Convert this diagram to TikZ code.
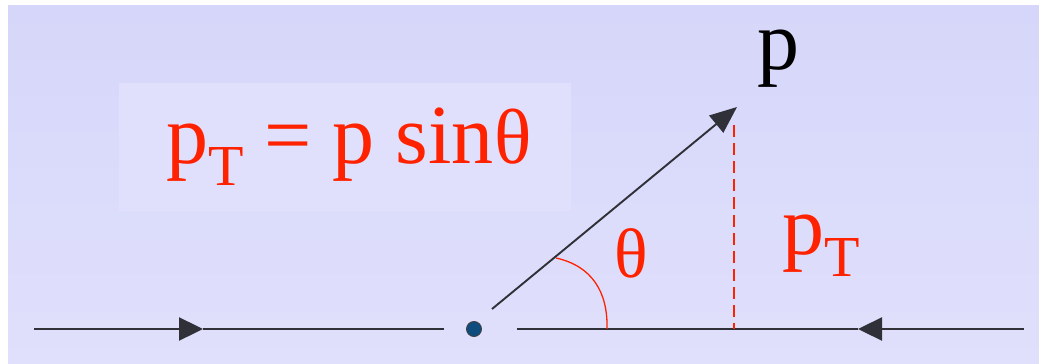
\documentclass[tikz,border=0pt]{standalone}
\usepackage{fontspec}
\setmainfont{Liberation Serif}
\usetikzlibrary{arrows.meta}
\definecolor{bgtop}{HTML}{D6D6FA}
\definecolor{bgbot}{HTML}{E0E0FC}
\definecolor{boxc}{HTML}{E0E0FC}
\definecolor{redc}{HTML}{FF2200}
\definecolor{dotc}{HTML}{0E4C7E}
\definecolor{linec}{HTML}{303038}
\tikzset{
  axisline/.style={draw=linec, line width=2.4pt},
  headtip/.style={-{Triangle[length=24pt,width=23pt]}},
  redtext/.style={text=redc, inner sep=0pt},
  bigfont/.style={font=\fontsize{84}{90}\selectfont},
}
\begin{document}
\begin{tikzpicture}[x=1pt,y=-1pt]
\useasboundingbox (0,0) rectangle (1039,364);
\fill[white] (0,0) rectangle (1039,364);
\shade[top color=bgtop,bottom color=bgbot] (8,5) rectangle (1039,364);
\fill[boxc] (119,83) rectangle (571,211);

% coordinates
\coordinate (l0) at (34,329);
\coordinate (la) at (203,329);
\coordinate (l1) at (444,329);
\coordinate (r0) at (1024,329);
\coordinate (ra) at (858,329);
\coordinate (r1) at (517,329);
\coordinate (s) at (492,309);
\coordinate (t) at (737,107);
\coordinate (d0) at (734,125);
\coordinate (d1) at (734,329);
\coordinate (a1) at (556,258);
\coordinate (a2) at (607,329);

% horizontal beam lines
\draw[axisline, headtip] (l0) -- (la);
\draw[axisline] (la) -- (l1);
\draw[axisline, headtip] (r0) -- (ra);
\draw[axisline] (ra) -- (r1);

% interaction point
\node[circle, fill=dotc, draw=black!75, line width=0.9pt, minimum size=15pt, inner sep=0pt] (o) at (474,329) {};

% momentum vector
\draw[draw=linec, line width=1.9pt, -{Triangle[length=27pt,width=22pt]}] (s) -- (t);

% transverse projection
\draw[redc, line width=1.5pt, dash pattern=on 12pt off 6pt] (d0) -- (d1);

% angle arc
\draw[redc, line width=1.3pt] (a1) .. controls (592,266) and (608,292) .. (a2);

% labels
\node[bigfont, inner sep=0pt, anchor=base west] (plab) at (757,69) {p};
\node[redtext, anchor=base west, font=\fontsize{70}{80}\selectfont] (th) at (614,277) {θ};
\node[redtext, bigfont, anchor=base west] (ptlab) at (782,254) {p\raisebox{-22pt}{\fontsize{58}{60}\selectfont T}};
\node[redtext, bigfont, anchor=base west] (form) at (166,163) {p\raisebox{-22pt}{\fontsize{58}{60}\selectfont T} = p sin{\fontsize{78}{80}\selectfont θ}};
\end{tikzpicture}
\end{document}
